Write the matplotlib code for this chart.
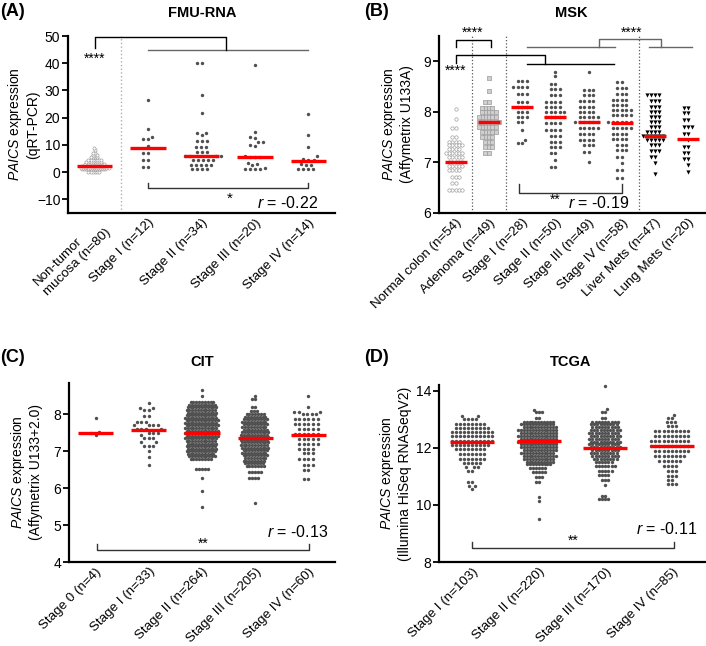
import numpy as np
import matplotlib
matplotlib.use("Agg")
import matplotlib.pyplot as plt

plt.rcParams['font.family'] = ['Liberation Sans', 'DejaVu Sans']
plt.rcParams['mathtext.fontset'] = 'custom'
plt.rcParams['mathtext.it'] = 'Liberation Sans:italic'
plt.rcParams['mathtext.rm'] = 'Liberation Sans'

# ---------------- data ----------------
# (A) FMU-RNA, qRT-PCR
a_labels = ["Non-tumor\nmucosa (n=80)", "Stage I (n=12)", "Stage II (n=34)",
            "Stage III (n=20)", "Stage IV (n=14)"]
a_normal_y = [0.2, 1.0, 1.7, 2.4, 3.1, 3.8, 4.6, 5.4, 6.2, 7.0, 8.2, 8.9]
a_normal_n = [6, 12, 14, 12, 10, 8, 7, 4, 3, 2, 1, 1]
a_st1 = [26.5, 16.0, 13.0, 12.3, 12.0, 9.6, 7.2, 7.2, 4.4, 4.4, 1.8, 1.8]
a_st2_y = [40.0, 28.5, 21.8, 14.5, 13.5, 11.5, 9.3, 7.5, 5.9, 4.4, 2.8, 1.0]
a_st2_n = [2, 1, 1, 2, 1, 3, 3, 3, 4, 5, 5, 4]
a_st3 = [39.5, 14.7, 13.0, 12.5, 11.0, 11.0, 10.0, 9.5, 5.8, 5.6, 5.5, 5.5,
         3.2, 3.0, 2.8, 1.5, 1.3, 1.3, 1.2, 1.2]
a_st4 = [21.5, 13.6, 9.3, 5.8, 4.8, 4.4, 4.3, 3.0, 2.8, 2.8, 1.3, 1.2, 1.2, 1.2]
a_median = [2.2, 8.9, 5.9, 5.4, 4.0]

# (B) MSK, Affymetrix U133A
b_labels = ["Normal colon (n=54)", "Adenoma (n=49)", "Stage I (n=28)", "Stage II (n=50)",
            "Stage III (n=49)", "Stage IV (n=58)", "Liver Mets (n=47)", "Lung Mets (n=20)"]
b_normal_y = [8.05, 7.85, 7.68, 7.51, 7.41, 7.34, 7.26, 7.18, 7.1, 7.01, 6.93, 6.85, 6.72, 6.59, 6.45]
b_normal_n = [1, 1, 2, 2, 4, 5, 4, 6, 5, 5, 5, 4, 3, 2, 5]
b_aden_y = [8.66, 8.42, 8.2, 8.08, 8.0, 7.9, 7.8, 7.7, 7.6, 7.5, 7.4, 7.3, 7.18]
b_aden_n = [1, 1, 2, 4, 5, 6, 7, 6, 5, 4, 3, 3, 2]
b_st1_y = [8.62, 8.5, 8.35, 8.2, 8.1, 8.0, 7.9, 7.8, 7.65, 7.45, 7.38]
b_st1_n = [3, 4, 3, 3, 3, 3, 3, 2, 1, 1, 2]
b_st2_y = [8.79, 8.7, 8.56, 8.46, 8.33, 8.2, 8.1, 8.0, 7.9, 7.78, 7.65, 7.52, 7.4, 7.3, 7.18, 7.05, 6.9]
b_st2_n = [1, 1, 2, 3, 3, 4, 4, 5, 5, 4, 4, 3, 3, 3, 2, 1, 2]
b_st3_y = [8.79, 8.43, 8.33, 8.22, 8.1, 8.0, 7.9, 7.8, 7.68, 7.57, 7.45, 7.34, 7.2, 7.01]
b_st3_n = [1, 3, 3, 4, 4, 4, 5, 6, 5, 4, 4, 3, 2, 1]
b_st4_y = [8.59, 8.48, 8.36, 8.24, 8.13, 8.03, 7.93, 7.8, 7.68, 7.57, 7.47, 7.35, 7.24, 7.1, 6.98, 6.85, 6.7]
b_st4_n = [2, 3, 3, 4, 4, 5, 5, 6, 5, 4, 4, 3, 3, 2, 1, 2, 2]
b_liver_y = [8.33, 8.22, 8.1, 8.0, 7.9, 7.8, 7.7, 7.6, 7.52, 7.44, 7.34, 7.22, 7.1, 6.98, 6.78]
b_liver_n = [4, 3, 3, 3, 3, 3, 3, 4, 6, 5, 3, 3, 2, 1, 1]
b_lung_y = [8.07, 7.97, 7.84, 7.7, 7.57, 7.45, 7.31, 7.18, 7.06, 6.95, 6.82]
b_lung_n = [2, 2, 2, 3, 2, 1, 2, 2, 2, 1, 1]
b_median = [7.01, 7.79, 8.09, 7.89, 7.79, 7.78, 7.52, 7.46]

# (C) CIT, Affymetrix U133+2.0
c_labels = ["Stage 0 (n=4)", "Stage I (n=33)", "Stage II (n=264)", "Stage III (n=205)", "Stage IV (n=60)"]
c_st0 = [7.9, 7.52, 7.5, 7.45]
c_st1_y = [8.31, 8.18, 8.12, 7.95, 7.8, 7.7, 7.6, 7.5, 7.45, 7.35, 7.25, 7.15, 7.0, 6.85, 6.63]
c_st1_n = [1, 2, 2, 2, 3, 4, 4, 3, 1, 3, 2, 3, 1, 1, 1]
c_st2_y = [8.67, 8.51, 8.33, 8.26, 8.19, 8.12, 8.05, 7.98, 7.91, 7.84, 7.77, 7.70, 7.63, 7.56,
           7.49, 7.42, 7.35, 7.28, 7.21, 7.14, 7.07, 7.00, 6.93, 6.86, 6.79, 6.51, 6.27, 5.93, 5.49]
c_st2_n = [1, 1, 9, 10, 11, 11, 11, 11, 12, 12, 12, 12, 12, 12,
           12, 12, 12, 11, 11, 11, 11, 11, 10, 10, 8, 5, 1, 1, 1]
c_st3_y = [8.5, 8.42, 8.2, 8.08, 8.01, 7.94, 7.87, 7.80, 7.73, 7.66, 7.59, 7.52, 7.45, 7.38, 7.31,
           7.24, 7.17, 7.10, 7.03, 6.96, 6.89, 6.82, 6.75, 6.68, 6.61, 6.44, 6.28, 5.6]
c_st3_n = [1, 2, 2, 3, 7, 8, 9, 9, 9, 9, 9, 10, 10, 10, 10,
           10, 10, 10, 9, 9, 9, 8, 8, 7, 7, 5, 4, 1]
c_st4_y = [8.51, 8.2, 8.06, 8.0, 7.88, 7.75, 7.61, 7.48, 7.34, 7.21, 7.07, 6.94, 6.8, 6.62, 6.49, 6.26]
c_st4_n = [1, 1, 3, 4, 6, 6, 5, 6, 5, 5, 4, 3, 4, 3, 2, 2]
c_median = [7.5, 7.57, 7.5, 7.36, 7.45]

# (D) TCGA, Illumina HiSeq RNASeqV2
d_labels = ["Stage I (n=103)", "Stage II (n=220)", "Stage III (n=170)", "Stage IV (n=85)"]
d_st1_y = [13.12, 13.0, 12.85, 12.7, 12.55, 12.4, 12.25, 12.1, 11.95, 11.8, 11.62, 11.47,
           11.32, 11.2, 10.8, 10.65, 10.55]
d_st1_n = [2, 4, 8, 9, 11, 11, 11, 10, 8, 7, 7, 5, 3, 2, 2, 2, 1]
d_st2_y = [13.32, 13.24, 13.05, 12.92, 12.82, 12.72, 12.62, 12.52, 12.42, 12.32, 12.22, 12.12, 12.02,
           11.92, 11.82, 11.72, 11.62, 11.52, 11.42, 11.3, 11.15, 10.98, 10.8, 10.26, 10.12, 9.5]
d_st2_n = [1, 3, 2, 11, 12, 12, 14, 13, 14, 13, 14, 13, 13,
           12, 12, 12, 11, 10, 9, 6, 5, 3, 2, 1, 1, 1]
d_st3_y = [14.17, 13.36, 13.27, 13.06, 12.92, 12.82, 12.72, 12.62, 12.52, 12.42, 12.32, 12.22, 12.12,
           12.02, 11.92, 11.82, 11.72, 11.62, 11.52, 11.37, 11.19, 11.04, 10.87, 10.69, 10.32, 10.2]
d_st3_n = [1, 1, 2, 2, 9, 9, 9, 10, 10, 10, 10, 10, 10,
           10, 9, 9, 9, 8, 6, 7, 5, 4, 3, 1, 2, 4]
d_st4_y = [13.15, 13.04, 12.89, 12.75, 12.6, 12.42, 12.25, 12.07, 11.9, 11.72, 11.54, 11.37,
           11.19, 11.02, 10.87, 10.72]
d_st4_n = [1, 2, 3, 3, 9, 9, 10, 10, 9, 8, 6, 4, 3, 3, 2, 3]
d_median = [12.2, 12.25, 12.01, 12.05]

W, H = 706, 646
DARK = '#505050'
GREY = '#666666'


def spread(ax, xc, vals, d):
    # simple beeswarm: place dots (pixel space) as close to the centre as possible
    disp = ax.transData.transform(np.column_stack([np.full(len(vals), float(xc)), vals]))
    ys = disp[:, 1]
    x0 = disp[0, 0]
    offs = np.zeros(len(vals))
    done = []
    for i in np.argsort(ys, kind='stable'):
        y = ys[i]
        forb = []
        for j in done:
            dy = abs(ys[j] - y)
            if dy < d:
                w = np.sqrt(d * d - dy * dy)
                forb.append((offs[j] - w, offs[j] + w))
        cands = [0.0] + [e for iv in forb for e in iv]
        cands.sort(key=lambda c: (round(abs(c), 4), c))
        for c in cands:
            if all(c <= lo + 1e-3 or c >= hi - 1e-3 for lo, hi in forb):
                offs[i] = c
                break
        done.append(i)
    return ax.transData.inverted().transform(np.column_stack([x0 + offs, ys]))[:, 0]


def group(ax, i, y, n=None, d=4.0, **style):
    vals = np.repeat(np.asarray(y, float), n) if n is not None else np.asarray(y, float)
    xs = spread(ax, i, vals, d)
    ax.scatter(xs, vals, zorder=3, clip_on=False, **style)


def setup(ax, labels, ylim, yticks, ylabel, labx):
    n = len(labels)
    ax.set_xlim(-0.5, n - 0.5)
    ax.set_ylim(*ylim)
    for s in ['top', 'right']:
        ax.spines[s].set_visible(False)
    for s in ['left', 'bottom']:
        ax.spines[s].set_linewidth(1.6)
    ax.set_yticks(yticks)
    ax.tick_params(axis='y', length=4, width=1.3, labelsize=10, pad=1.5)
    ax.tick_params(axis='x', length=0, labelsize=9.6, pad=2.5)
    ax.set_xticks(range(n))
    ax.set_xticklabels(labels, rotation=45, ha='right', rotation_mode='anchor', ma='left')
    ax.set_ylabel(ylabel, fontsize=10)
    ax.yaxis.set_label_coords(labx, 0.5)


def medians(ax, meds):
    for i, m in enumerate(meds):
        ax.plot([i - 0.33, i + 0.33], [m, m], color='#ff0000', lw=2.4,
                solid_capstyle='butt', zorder=5)


def line(ax, xs, ys, color='black'):
    ax.plot(xs, ys, color=color, lw=1.0, clip_on=False, zorder=2)


fig = plt.figure(figsize=(W / 100, H / 100), dpi=100)

dark = dict(s=6, color=DARK, linewidths=0)

# ---------------- (A) ----------------
axA = fig.add_axes([68 / W, 1 - 213 / H, 267 / W, 177 / H])
setup(axA, a_labels, (-15, 50), [-10, 0, 10, 20, 30, 40, 50],
      r"$\mathit{PAICS}$ expression" + "\n(qRT-PCR)", -0.105)
axA.axvline(0.5, color='#b0b0b0', ls=':', lw=1.0, zorder=1)
group(axA, 0, a_normal_y, a_normal_n, d=2.1, s=5, facecolors='white',
      edgecolors='#a0a0a0', linewidths=0.5)
group(axA, 1, a_st1, d=5.0, **dark)
group(axA, 2, a_st2_y, a_st2_n, d=5.0, **dark)
group(axA, 3, a_st3, d=5.0, **dark)
group(axA, 4, a_st4, d=5.0, **dark)
medians(axA, a_median)
line(axA, [1, 4], [44.9, 44.9], GREY)
line(axA, [0, 0, 2.45, 2.45], [45.5, 49.5, 49.5, 44.9])
axA.text(0, 41.8, "****", ha='center', va='center', fontsize=10)
line(axA, [1, 1, 4, 4], [-3.9, -6.0, -6.0, -3.9], '#333333')
axA.text(2.53, -9.9, "*", ha='center', va='center', fontsize=11)
axA.text(4.18, -11.2, r"$\mathit{r}$ = -0.22", ha='right', va='center', fontsize=11.5)

# ---------------- (B) ----------------
axB = fig.add_axes([439 / W, 1 - 213 / H, 266 / W, 177 / H])
setup(axB, b_labels, (6, 9.5), [6, 7, 8, 9],
      r"$\mathit{PAICS}$ expression" + "\n(Affymetrix U133A)", -0.094)
for xv in [0.5, 1.5, 5.5]:
    axB.axvline(xv, color='#555555', ls=':', lw=0.9, zorder=1)
group(axB, 0, b_normal_y, b_normal_n, d=3.3, s=6, facecolors='white',
      edgecolors='#a0a0a0', linewidths=0.5)
group(axB, 1, b_aden_y, b_aden_n, d=3.4, s=9, marker='s', facecolors='#cfcfcf',
      edgecolors='#9a9a9a', linewidths=0.5)
for i, (yy, nn) in enumerate([(b_st1_y, b_st1_n), (b_st2_y, b_st2_n),
                              (b_st3_y, b_st3_n), (b_st4_y, b_st4_n)]):
    group(axB, 2 + i, yy, nn, d=4.5, **dark)
group(axB, 6, b_liver_y, b_liver_n, d=4.0, s=9, marker='v', color='black', linewidths=0)
group(axB, 7, b_lung_y, b_lung_n, d=4.0, s=9, marker='v', color='black', linewidths=0)
medians(axB, b_median)
line(axB, [0, 0, 1.05, 1.05], [9.28, 9.43, 9.43, 9.28])
axB.text(0.52, 9.57, "****", ha='center', va='center', fontsize=10)
line(axB, [2.16, 4.75], [8.95, 8.95])
line(axB, [0, 0, 2.7, 2.7], [8.97, 9.12, 9.12, 8.95])
axB.text(0, 8.82, "****", ha='center', va='center', fontsize=10)
line(axB, [2.16, 4.8], [9.29, 9.29], GREY)
line(axB, [4.3, 4.3, 6.18, 6.18], [9.29, 9.44, 9.44, 9.29], GREY)
line(axB, [5.82, 7.1], [9.29, 9.29], GREY)
axB.text(5.3, 9.57, "****", ha='center', va='center', fontsize=10)
line(axB, [1.92, 1.92, 5.0, 5.0], [6.57, 6.40, 6.40, 6.57], '#333333')
axB.text(3.0, 6.27, "**", ha='center', va='center', fontsize=10)
axB.text(5.22, 6.19, r"$\mathit{r}$ = -0.19", ha='right', va='center', fontsize=11.5)

# ---------------- (C) ----------------
axC = fig.add_axes([69 / W, 1 - 562 / H, 266 / W, 179 / H])
setup(axC, c_labels, (4, 8.85), [4, 5, 6, 7, 8],
      r"$\mathit{PAICS}$ expression" + "\n(Affymetrix U133+2.0)", -0.098)
group(axC, 0, c_st0, d=4.6, **dark)
group(axC, 1, c_st1_y, c_st1_n, d=4.6, **dark)
group(axC, 2, c_st2_y, c_st2_n, d=2.85, **dark)
group(axC, 3, c_st3_y, c_st3_n, d=2.9, **dark)
group(axC, 4, c_st4_y, c_st4_n, d=4.6, **dark)
medians(axC, c_median)
line(axC, [0.03, 0.03, 4.02, 4.02], [4.49, 4.32, 4.32, 4.49], '#333333')
axC.text(2.03, 4.5, "**", ha='center', va='center', fontsize=10)
axC.text(4.37, 4.8, r"$\mathit{r}$ = -0.13", ha='right', va='center', fontsize=11.5)

# ---------------- (D) ----------------
axD = fig.add_axes([439 / W, 1 - 562 / H, 266 / W, 177 / H])
setup(axD, d_labels, (8, 14.2), [8, 10, 12, 14],
      r"$\mathit{PAICS}$ expression" + "\n(Illumina HiSeq RNASeqV2)", -0.1)
group(axD, 0, d_st1_y, d_st1_n, d=4.0, **dark)
group(axD, 1, d_st2_y, d_st2_n, d=2.9, **dark)
group(axD, 2, d_st3_y, d_st3_n, d=3.2, **dark)
group(axD, 3, d_st4_y, d_st4_n, d=4.1, **dark)
medians(axD, d_median)
line(axD, [0, 0, 3.03, 3.03], [8.70, 8.49, 8.49, 8.70], '#333333')
axD.text(1.52, 8.75, "**", ha='center', va='center', fontsize=10)
axD.text(3.39, 9.16, r"$\mathit{r}$ = -0.11", ha='right', va='center', fontsize=11.5)

# ---------------- panel labels / titles ----------------
for px, py, t in [(0, 12, "(A)"), (364, 12, "(B)"), (0, 358, "(C)"), (364, 358, "(D)")]:
    fig.text(px / W, 1 - py / H, t, ha='left', va='center', fontsize=13, fontweight='bold')
for px, py, t in [(202, 13, "FMU-RNA"), (571, 13, "MSK"), (202, 362, "CIT"), (571, 362, "TCGA")]:
    fig.text(px / W, 1 - py / H, t, ha='center', va='center', fontsize=10.5, fontweight='bold')

fig.savefig("out.png", dpi=100)
